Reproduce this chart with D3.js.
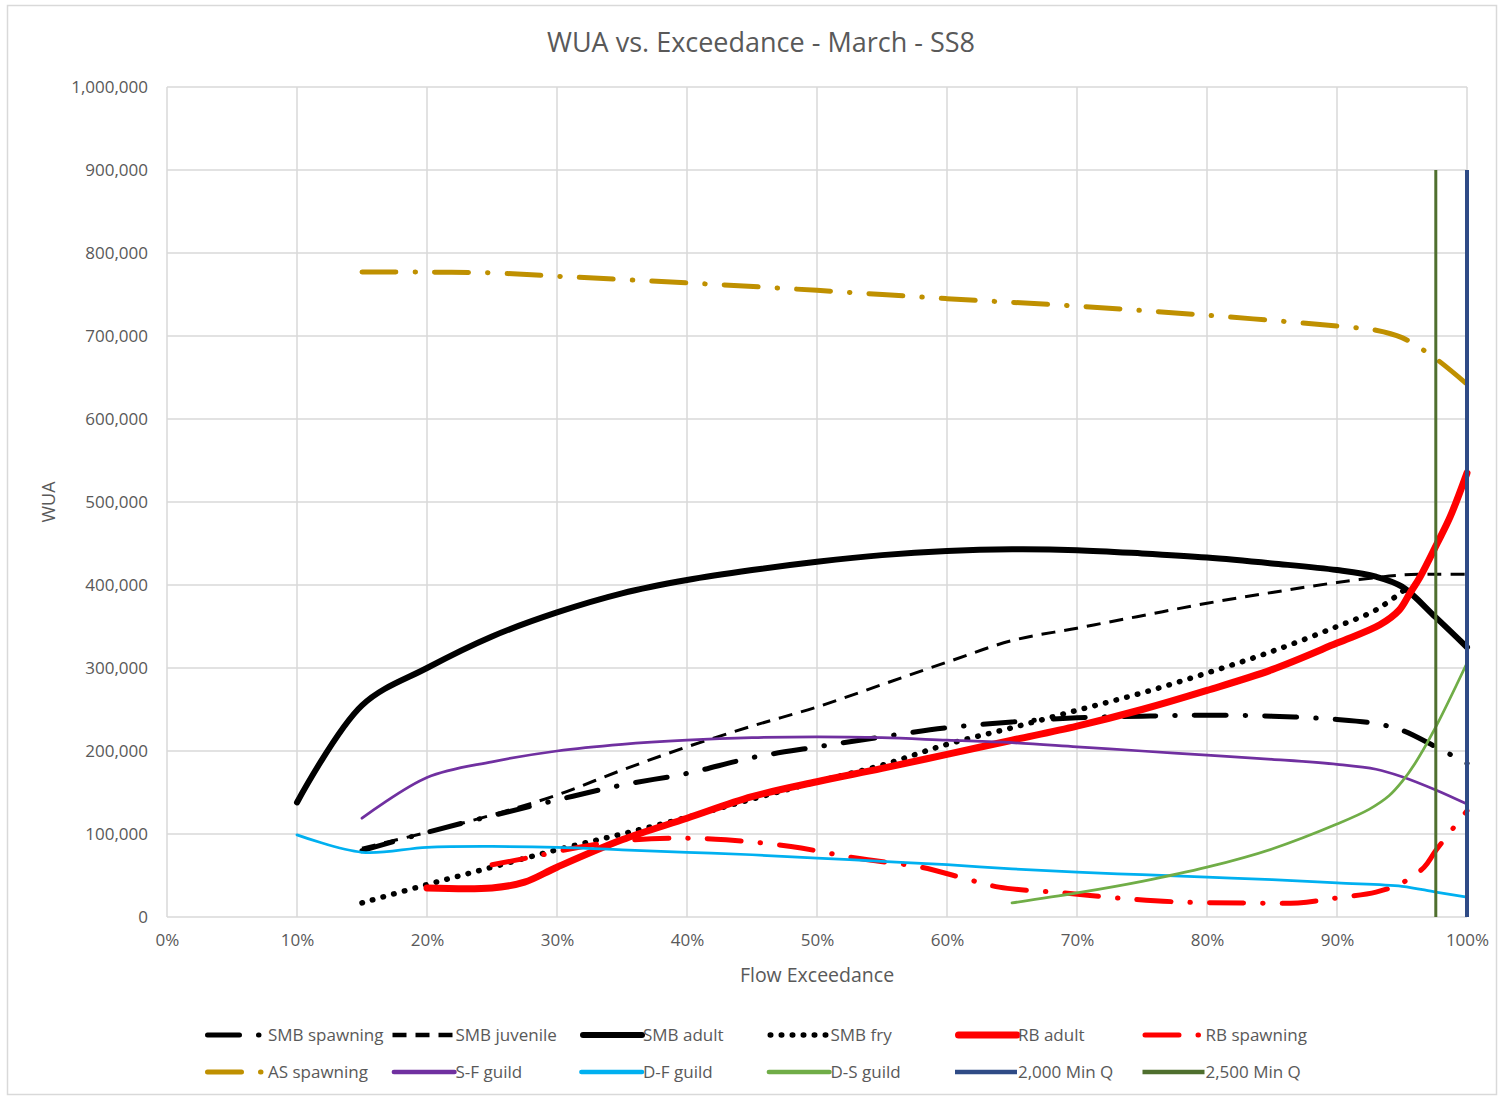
<!DOCTYPE html>
<html>
<head>
<meta charset="utf-8">
<script src="https://cdn.jsdelivr.net/npm/d3@7"></script>
<style>
  html, body { margin: 0; padding: 0; background: #fff; }
  svg { display: block; font-family: "Open Sans", Lato, sans-serif; }
</style>
</head>
<body>
<svg id="chart" width="1501" height="1098"></svg>
<script>
// Flow exceedance (%) and weighted usable area for each habitat curve
const smbSpawningX = [15, 20, 25, 30, 35, 40, 45, 50, 55, 60, 65, 70, 75, 80, 85, 90, 93, 95, 97.6, 100];
const smbSpawningY = [80000, 102000, 122000, 141000, 159000, 173000, 192000, 205000, 217000, 228000, 235000, 240000, 242000, 243000, 242000, 238000, 233000, 225000, 205000, 185000];

const smbJuvenileX = [15, 20, 25, 30, 35, 40, 45, 50, 55, 60, 65, 70, 75, 80, 85, 90, 95, 97.6, 100];
const smbJuvenileY = [83000, 102000, 123000, 147000, 177000, 205000, 230000, 253000, 280000, 307000, 333000, 348000, 363000, 378000, 391000, 403000, 412000, 413000, 413000];

const smbAdultX = [10, 15, 20, 25, 30, 35, 40, 45, 50, 55, 60, 65, 70, 75, 80, 85, 90, 93, 95, 97.6, 100];
const smbAdultY = [138000, 255000, 300000, 338000, 367000, 390000, 406000, 418000, 428000, 436000, 441000, 443000, 442000, 438000, 433000, 426000, 418000, 410000, 398000, 361000, 325000];

const smbFryX = [15, 20, 25, 30, 35, 40, 45, 50, 55, 60, 65, 70, 75, 80, 85, 90, 93, 95.5];
const smbFryY = [17000, 39000, 60000, 81000, 100000, 120000, 142000, 163000, 183000, 208000, 228000, 249000, 270000, 294000, 320000, 350000, 370000, 398000];

const rbAdultX = [20, 25, 27.5, 30, 35, 40, 45, 50, 55, 60, 65, 70, 75, 80, 85, 90, 93.3, 94.8, 95.6, 96.4, 97.7, 98.7, 100];
const rbAdultY = [35000, 35000, 42000, 60000, 93000, 119000, 145000, 163000, 179000, 196000, 213000, 230000, 250000, 273000, 298000, 330000, 352000, 370000, 390000, 410000, 450000, 482000, 535000];

const rbSpawningX = [25, 28, 32, 36, 40, 43, 48, 53, 58, 61, 64, 69, 73, 78, 83, 87, 90, 93, 95, 96.7, 97.6, 100];
const rbSpawningY = [63000, 72000, 85000, 93000, 95000, 93000, 85000, 71000, 60000, 48000, 36000, 29000, 23000, 18000, 17000, 17000, 23000, 30000, 41000, 60000, 80000, 128000];

const asSpawningX = [15, 20, 25, 30, 40, 50, 60, 70, 80, 90, 93, 95, 97.4, 100];
const asSpawningY = [777000, 777000, 776000, 772000, 764000, 755000, 745000, 736000, 725000, 712000, 707000, 698000, 675000, 642000];

const sfGuildX = [15, 20, 25, 30, 35, 40, 45, 50, 55, 60, 65, 70, 75, 80, 85, 90, 93, 95, 97.6, 100];
const sfGuildY = [119000, 168000, 187000, 200000, 208000, 213000, 216000, 217000, 216000, 213000, 210000, 205000, 200000, 195000, 190000, 184000, 178000, 169000, 153000, 136000];

const dfGuildX = [10, 15, 20, 25, 30, 35, 40, 45, 50, 55, 60, 65, 70, 75, 80, 85, 90, 95, 97.6, 100];
const dfGuildY = [99000, 78000, 84000, 85000, 84000, 81000, 78000, 75000, 71000, 67000, 63000, 58000, 54000, 51000, 48000, 45000, 41000, 37000, 30000, 24000];

const dsGuildX = [65, 70, 75, 80, 85, 90, 92.5, 94, 95, 96, 97.5, 100];
const dsGuildY = [17000, 29000, 43000, 60000, 82000, 112000, 130000, 146000, 163000, 185000, 226000, 306000];

// Minimum-flow markers (vertical lines)
const minQ2000X = [100, 100];
const minQ2000Y = [0, 900000];
const minQ2500X = [97.6, 97.6];
const minQ2500Y = [0, 900000];

// Axis ticks and text
const xTicks = [0, 10, 20, 30, 40, 50, 60, 70, 80, 90, 100];
const yTicks = [0, 100000, 200000, 300000, 400000, 500000, 600000, 700000, 800000, 900000, 1000000];
const chartTitle = "WUA vs. Exceedance - March - SS8";
const xTitle = "Flow Exceedance";
const yTitle = "WUA";

// Series definitions (drawn in this order; legend uses the same order)
const series = [
  { name: "SMB spawning", x: smbSpawningX, y: smbSpawningY, color: "#000000", width: 5, dash: "32,19,0.5,19", cap: "round", smooth: true },
  { name: "SMB juvenile", x: smbJuvenileX, y: smbJuvenileY, color: "#000000", width: 3, dash: "14,9", cap: "butt", smooth: true },
  { name: "SMB adult", x: smbAdultX, y: smbAdultY, color: "#000000", width: 6, dash: null, cap: "round", smooth: true },
  { name: "SMB fry", x: smbFryX, y: smbFryY, color: "#000000", width: 5.5, dash: "0.5,10.5", cap: "round", smooth: true },
  { name: "RB adult", x: rbAdultX, y: rbAdultY, color: "#FF0000", width: 7, dash: null, cap: "round", smooth: true },
  { name: "RB spawning", x: rbSpawningX, y: rbSpawningY, color: "#FF0000", width: 5, dash: "34,19,0.5,19", cap: "round", smooth: true },
  { name: "AS spawning", x: asSpawningX, y: asSpawningY, color: "#BF9000", width: 5, dash: "34,19,0.5,19", cap: "round", smooth: true },
  { name: "S-F guild", x: sfGuildX, y: sfGuildY, color: "#7030A0", width: 2.75, dash: null, cap: "round", smooth: true },
  { name: "D-F guild", x: dfGuildX, y: dfGuildY, color: "#00B0F0", width: 2.75, dash: null, cap: "round", smooth: true },
  { name: "D-S guild", x: dsGuildX, y: dsGuildY, color: "#70AD47", width: 2.75, dash: null, cap: "round", smooth: true },
  { name: "2,000 Min Q", x: minQ2000X, y: minQ2000Y, color: "#2F4B86", width: 4, dash: null, cap: "butt", smooth: false },
  { name: "2,500 Min Q", x: minQ2500X, y: minQ2500Y, color: "#4F6F2E", width: 3, dash: null, cap: "butt", smooth: false }
];

const svg = d3.select("#chart");
const W = 1501, H = 1098;
const plot = { left: 167, right: 1467, top: 87, bottom: 917 };
const textColor = "#595959";
const gridColor = "#D9D9D9";
const font = "'Open Sans', Lato, sans-serif";

// Chart frame
svg.append("rect")
  .attr("x", 7.5).attr("y", 5.5)
  .attr("width", W - 12).attr("height", H - 9)
  .attr("fill", "#fff")
  .attr("stroke", gridColor).attr("stroke-width", 1.5);

const x = d3.scaleLinear().domain([0, 100]).range([plot.left, plot.right]);
const y = d3.scaleLinear().domain([0, 1000000]).range([plot.bottom, plot.top]);

// Gridlines
svg.append("g")
  .selectAll("line")
  .data(yTicks)
  .join("line")
  .attr("x1", plot.left).attr("x2", plot.right)
  .attr("y1", d => y(d)).attr("y2", d => y(d))
  .attr("stroke", gridColor).attr("stroke-width", 1.5);

svg.append("g")
  .selectAll("line")
  .data(xTicks)
  .join("line")
  .attr("x1", d => x(d)).attr("x2", d => x(d))
  .attr("y1", plot.top).attr("y2", plot.bottom)
  .attr("stroke", gridColor).attr("stroke-width", 1.5);

// Axes (labels only; the gridlines double as axis lines)
const fmt = d3.format(",");
const yAxis = svg.append("g")
  .attr("transform", `translate(${plot.left},0)`)
  .call(d3.axisLeft(y).tickValues(yTicks).tickFormat(fmt).tickSize(0).tickPadding(19));
const xAxis = svg.append("g")
  .attr("transform", `translate(0,${plot.bottom})`)
  .call(d3.axisBottom(x).tickValues(xTicks).tickFormat(d => d + "%").tickSize(0).tickPadding(17));
[xAxis, yAxis].forEach(a => {
  a.select(".domain").remove();
  a.selectAll("text")
    .attr("fill", textColor)
    .style("font-size", "17px")
    .style("font-family", font);
});

// Series lines
const smoothLine = d3.line().x(d => x(d[0])).y(d => y(d[1])).curve(d3.curveCatmullRom.alpha(0.5));
const straightLine = d3.line().x(d => x(d[0])).y(d => y(d[1]));

const linesG = svg.append("g");
series.forEach(s => {
  const pts = s.x.map((v, i) => [v, s.y[i]]);
  linesG.append("path")
    .datum(pts)
    .attr("d", s.smooth ? smoothLine : straightLine)
    .attr("fill", "none")
    .attr("stroke", s.color)
    .attr("stroke-width", s.width)
    .attr("stroke-linecap", s.cap)
    .attr("stroke-linejoin", "round")
    .attr("stroke-dasharray", s.dash);
});

// Titles
svg.append("text")
  .attr("x", 761).attr("y", 52)
  .attr("text-anchor", "middle")
  .attr("fill", textColor)
  .style("font-size", "27px")
  .text(chartTitle);

svg.append("text")
  .attr("x", (plot.left + plot.right) / 2).attr("y", 982)
  .attr("text-anchor", "middle")
  .attr("fill", textColor)
  .style("font-size", "19.5px")
  .text(xTitle);

svg.append("text")
  .attr("transform", `translate(55,${(plot.top + plot.bottom) / 2}) rotate(-90)`)
  .attr("text-anchor", "middle")
  .attr("fill", textColor)
  .style("font-size", "18px")
  .text(yTitle);

// Legend: two rows of six
const legendX0 = 205, legendDX = 187.5, legendRowY = [1035, 1072], sampleLen = 62;
const legend = svg.append("g");
series.forEach((s, i) => {
  const col = i % 6, row = Math.floor(i / 6);
  const lx = legendX0 + col * legendDX, ly = legendRowY[row];
  const item = legend.append("g").attr("transform", `translate(${lx},${ly})`);
  item.append("line")
    .attr("x1", s.cap === "round" ? s.width / 2 : 0).attr("x2", sampleLen)
    .attr("y1", 0).attr("y2", 0)
    .attr("stroke", s.color)
    .attr("stroke-width", Math.max(s.width, 4.5))
    .attr("stroke-linecap", s.cap)
    .attr("stroke-dasharray", s.dash);
  item.append("text")
    .attr("x", sampleLen + 1).attr("y", 6)
    .attr("fill", textColor)
    .style("font-size", "17px")
    .text(s.name);
});
</script>
</body>
</html>
